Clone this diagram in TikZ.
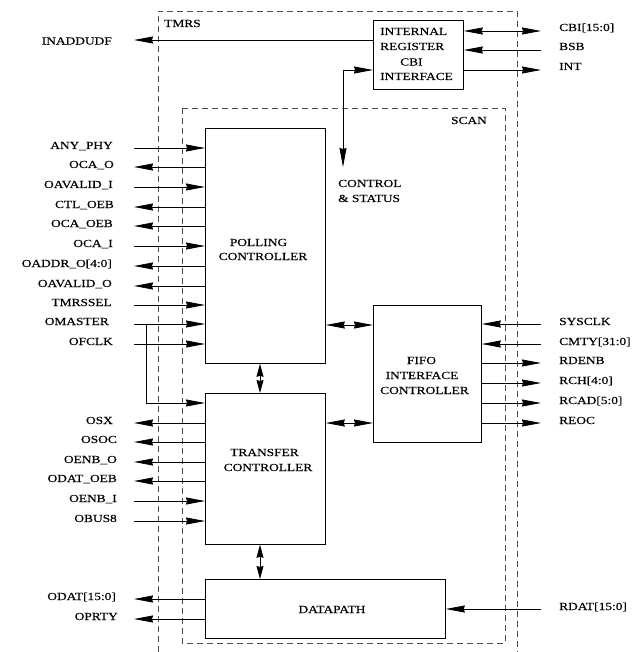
\documentclass[tikz,border=0pt]{standalone}
\usepackage{fontspec}
\setmainfont{Liberation Serif}[FakeStretch=1.24,FakeBold=0.25]
\usetikzlibrary{arrows.meta}
\tikzset{
  bigtip/.tip={Stealth[length=19pt,width=7pt,inset=1pt]},
  smalltip/.tip={Stealth[length=13pt,width=7pt,inset=1pt]}
}
\begin{document}
\begin{tikzpicture}[x=1pt,y=-1pt,
  sig/.style={line width=0.8pt,-{bigtip}},
  dsig/.style={line width=0.8pt,{bigtip}-{bigtip}},
  vsig/.style={line width=0.8pt,{smalltip}-{smalltip}},
  blk/.style={draw,line width=0.8pt,anchor=north west,inner sep=0pt},
  dbox/.style={draw=black!70,line width=0.7pt,dash pattern=on 6pt off 4pt},
  txt/.style={inner sep=0pt,font=\fontsize{10.8}{14}\selectfont},
  ll/.style={txt,anchor=base east},
  rl/.style={txt,anchor=base west},
  bt/.style={txt,anchor=base}]
\useasboundingbox (0,0) rectangle (639,652);
% dashed hierarchy boxes
\draw[dbox] (158,652) -- (158,11) -- (517,11) -- (517,652);
\draw[dbox] (182,108) rectangle (505,643);
\node[txt,anchor=base west] (tmrs) at (164,27) {TMRS};
\node[txt,anchor=base east] (scan) at (487,124) {SCAN};
% blocks
\node[blk,minimum width=90pt,minimum height=69pt] (reg) at (373,20) {};
\node[blk,minimum width=120pt,minimum height=235pt] (poll) at (205,128) {};
\node[blk,minimum width=108pt,minimum height=137pt] (fifo) at (373,305) {};
\node[blk,minimum width=120pt,minimum height=151pt] (xfer) at (205,393) {};
\node[blk,minimum width=240pt,minimum height=59pt] (dp) at (205,579) {};
% block texts
\node[txt,anchor=base west] (reg1) at (380,35) {INTERNAL};
\node[txt,anchor=base west] (reg2) at (380,50) {REGISTER};
\node[txt,anchor=base west] (reg3) at (400,65.5) {CBI};
\node[txt,anchor=base west] (reg4) at (380,80) {INTERFACE};
\node[bt] (poll1) at (258.5,246) {POLLING};
\node[bt] (poll2) at (263,260) {CONTROLLER};
\node[bt] (xfer1) at (264.5,456) {TRANSFER};
\node[bt] (xfer2) at (268,471) {CONTROLLER};
\node[bt] (fifo1) at (421.5,364) {FIFO};
\node[bt] (fifo2) at (422,379) {INTERFACE};
\node[bt] (fifo3) at (424.5,394) {CONTROLLER};
\node[bt] (dp1) at (332,613) {DATAPATH};
\node[txt,anchor=base west] (cs1) at (338,187) {CONTROL};
\node[txt,anchor=base west] (cs2) at (338,202) {\& STATUS};
% register interface connections
\coordinate (inad) at (134,40);
\draw[sig] (inad -| reg.west) -- (inad);
\node[txt,anchor=east] (linad) at (112,41) {INADDUDF};
\coordinate (cbi) at (541,31);
\coordinate (bsb) at (541,50);
\coordinate (int) at (541,70);
\draw[dsig] (cbi -| reg.east) -- (cbi);
\draw[sig] (bsb) -- (bsb -| reg.east);
\draw[sig] (int -| reg.east) -- (int);
\node[rl] (lcbi) at (559,31) {CBI[15:0]};
\node[rl] (lbsb) at (559,50) {BSB};
\node[rl] (lint) at (559,70) {INT};
\coordinate (csend) at (343,167);
\coordinate (csy) at (343,70);
\draw[dsig] (csend) -- (csy) -- (csy -| reg.west);
% polling controller signals
\foreach \y/\d/\lab/\lx in {148/i/ANY\_PHY/113, 167/o/OCA\_O/114, 187/i/OAVALID\_I/113,
  207/o/CTL\_OEB/114, 226/o/OCA\_OEB/113, 246/i/OCA\_I/113, 266/o/OADDR\_O[4:0]/112,
  286/o/OAVALID\_O/112, 305/i/TMRSSEL/112, 324/i/OMASTER/109, 344/i/OFCLK/113}{
  \coordinate (pl\y) at (134,\y);
  \if\d i
    \draw[sig] (pl\y) -- (pl\y -| poll.west);
  \else
    \draw[sig] (pl\y -| poll.west) -- (pl\y);
  \fi
  \node[ll] (lpl\y) at (\lx,\y+1) {\lab};
}
\coordinate (omb) at (146,324);
\coordinate (omx) at (146,403);
\draw[sig] (omb) -- (omx) -- (omx -| xfer.west);
% transfer controller signals
\foreach \y/\d/\lab/\lx in {423/o/OSX/113, 442/o/OSOC/117, 462/o/OENB\_O/117,
  481/o/ODAT\_OEB/117, 501/i/OENB\_I/117, 521/i/OBUS8/117}{
  \coordinate (xl\y) at (134,\y);
  \if\d i
    \draw[sig] (xl\y) -- (xl\y -| xfer.west);
  \else
    \draw[sig] (xl\y -| xfer.west) -- (xl\y);
  \fi
  \node[ll] (lxl\y) at (\lx,\y+1) {\lab};
}
% datapath signals
\coordinate (odat) at (134,599);
\coordinate (oprty) at (134,619);
\draw[sig] (odat -| dp.west) -- (odat);
\draw[sig] (oprty -| dp.west) -- (oprty);
\node[ll] (lodat) at (116,600) {ODAT[15:0]};
\node[ll] (loprty) at (118,620) {OPRTY};
\coordinate (rdat) at (541,609);
\draw[sig] (rdat) -- (rdat -| dp.east);
\node[rl] (lrdat) at (559,610) {RDAT[15:0]};
% fifo signals
\foreach \y/\d/\lab in {324/i/SYSCLK, 344/i/CMTY[31:0], 363/o/RDENB,
  383/o/RCH[4:0], 403/o/RCAD[5:0], 423/o/REOC}{
  \coordinate (fr\y) at (541,\y);
  \if\d i
    \draw[sig] (fr\y) -- (fr\y -| fifo.east);
  \else
    \draw[sig] (fr\y -| fifo.east) -- (fr\y);
  \fi
  \node[rl] (lfr\y) at (559,\y+1) {\lab};
}
% internal connections
\coordinate (pf) at (349,325);
\draw[dsig] (pf -| poll.east) -- (pf -| fifo.west);
\coordinate (xf) at (349,423);
\draw[dsig] (xf -| xfer.east) -- (xf -| fifo.west);
\coordinate (px) at (260,378);
\draw[vsig] (px |- poll.south) -- (px |- xfer.north);
\coordinate (xd) at (260,560);
\draw[vsig] (xd |- xfer.south) -- (xd |- dp.north);
\end{tikzpicture}
\end{document}
